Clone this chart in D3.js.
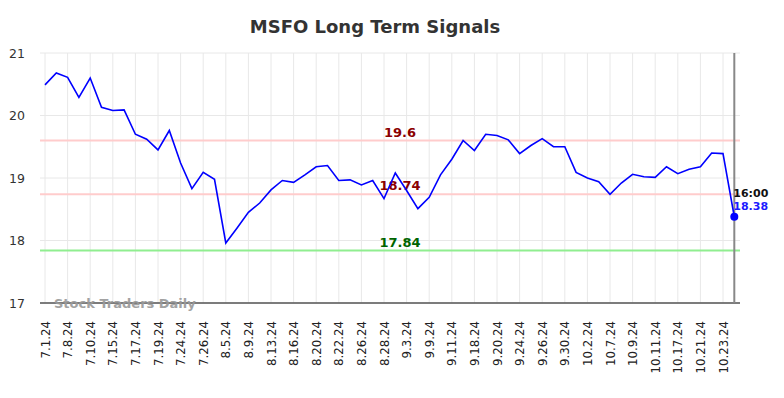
<!DOCTYPE html>
<html><head><meta charset="utf-8">
<script src="https://cdn.jsdelivr.net/npm/d3@7"></script>
<style>body{margin:0;background:#fff}svg{display:block;font-family:"DejaVu Sans",sans-serif}</style>
</head><body><svg id="c" width="784" height="398"></svg>
<script>
const dates = ["7.1.24","7.5.24","7.8.24","7.9.24","7.10.24","7.12.24","7.15.24","7.16.24","7.17.24","7.18.24",
"7.19.24","7.22.24","7.24.24","7.25.24","7.26.24","8.1.24","8.5.24","8.7.24","8.9.24","8.12.24",
"8.13.24","8.15.24","8.16.24","8.19.24","8.20.24","8.21.24","8.22.24","8.23.24","8.26.24","8.27.24",
"8.28.24","8.30.24","9.3.24","9.5.24","9.9.24","9.10.24","9.11.24","9.13.24","9.18.24","9.19.24",
"9.20.24","9.23.24","9.24.24","9.25.24","9.26.24","9.27.24","9.30.24","10.1.24","10.2.24","10.4.24",
"10.7.24","10.8.24","10.9.24","10.10.24","10.11.24","10.15.24","10.17.24","10.18.24","10.21.24","10.22.24",
"10.23.24","10.24.24"];
const prices = [20.49,20.68,20.61,20.29,20.60,20.13,20.08,20.09,19.70,19.62,
19.45,19.76,19.24,18.83,19.09,18.98,17.96,18.20,18.45,18.60,
18.81,18.96,18.93,19.05,19.18,19.20,18.96,18.97,18.89,18.96,
18.67,19.08,18.80,18.51,18.69,19.05,19.30,19.60,19.44,19.70,
19.68,19.61,19.39,19.52,19.63,19.50,19.50,19.09,19.00,18.94,
18.74,18.92,19.06,19.02,19.01,19.18,19.07,19.14,19.18,19.40,
19.39,18.38];
const yTicks = [17,18,19,20,21];
const resistance = 19.6, midLevel = 18.74, support = 17.84;
const lastTime = "16:00";
const title = "MSFO Long Term Signals";

const svg = d3.select("#c");
const L = 40, R = 740, T = 53, B = 303;
const x = d3.scalePoint().domain(dates).range([45, 734.3]);
const y = d3.scaleLinear().domain([17,21]).range([B, T]);

// grid
const labelDates = dates.filter((d,i)=>i%2===0 && i<dates.length-1);
svg.append("g").selectAll("line").data(labelDates).join("line")
  .attr("x1",d=>x(d)).attr("x2",d=>x(d)).attr("y1",T).attr("y2",B)
  .attr("stroke","#e8e8e8").attr("stroke-width",1);
svg.append("g").selectAll("line").data(yTicks).join("line")
  .attr("x1",L).attr("x2",R).attr("y1",d=>y(d)).attr("y2",d=>y(d))
  .attr("stroke","#e8e8e8").attr("stroke-width",1);

// y axis labels
const ya = svg.append("g").attr("transform",`translate(25,0)`)
  .call(d3.axisLeft(y).tickValues(yTicks).tickFormat(d3.format("d")).tickSize(0).tickPadding(0));
ya.select(".domain").remove();
ya.selectAll("text").attr("font-size",12.5).attr("fill","#333").attr("font-family","DejaVu Sans");

// x axis
const xa = svg.append("g").attr("transform",`translate(0,${B})`)
  .call(d3.axisBottom(x).tickValues(labelDates).tickSize(0));
xa.select(".domain").remove();
xa.selectAll("text").attr("font-size",11.8).attr("fill","#222").attr("font-family","DejaVu Sans")
  .attr("text-anchor","end").attr("transform","rotate(-90)")
  .attr("x",-18).attr("y",0).attr("dy","0.35em");
svg.append("line").attr("x1",L).attr("x2",R).attr("y1",B).attr("y2",B).attr("stroke","#555").attr("stroke-width",1.3);

// levels
const levels = [{v:resistance,c:"#ffcccc",t:"#8b0000"},{v:midLevel,c:"#ffcccc",t:"#8b0000"},{v:support,c:"#90ee90",t:"#006400"}];
svg.append("g").selectAll("line").data(levels).join("line")
  .attr("x1",L).attr("x2",R).attr("y1",d=>y(d.v)).attr("y2",d=>y(d.v))
  .attr("stroke",d=>d.c).attr("stroke-width",2);
svg.append("g").selectAll("text").data(levels).join("text")
  .attr("x",400).attr("y",d=>y(d.v)-4).attr("text-anchor","middle")
  .attr("font-size",13).attr("font-weight","bold").attr("fill",d=>d.t).text(d=>d.v);

// watermark
svg.append("text").attr("x",54).attr("y",308).attr("font-size",13).attr("font-weight","bold")
  .attr("fill","#999").attr("opacity",0.9).text("Stock Traders Daily");

// last vertical line
const lastD = dates[dates.length-1], lastV = prices[prices.length-1];
svg.append("line").attr("x1",x(lastD)).attr("x2",x(lastD)).attr("y1",T).attr("y2",B)
  .attr("stroke","#888").attr("stroke-width",2);

// price line
svg.append("path").datum(prices).attr("fill","none").attr("stroke","#0000ff").attr("stroke-width",1.6)
  .attr("d",d3.line().x((d,i)=>x(dates[i])).y(d=>y(d)));
svg.append("circle").attr("cx",x(lastD)).attr("cy",y(lastV)).attr("r",4).attr("fill","#0000ff");
svg.append("text").attr("x",x(lastD)-1).attr("y",197).attr("font-size",11).attr("font-weight","bold").attr("fill","#111").text(lastTime);
svg.append("text").attr("x",x(lastD)-1).attr("y",210).attr("font-size",11).attr("font-weight","bold").attr("fill","#1a1aff").text(lastV);

// title
svg.append("text").attr("x",375).attr("y",33).attr("text-anchor","middle").attr("font-size",18)
  .attr("font-weight","bold").attr("fill","#333").text(title);
</script></body></html>
